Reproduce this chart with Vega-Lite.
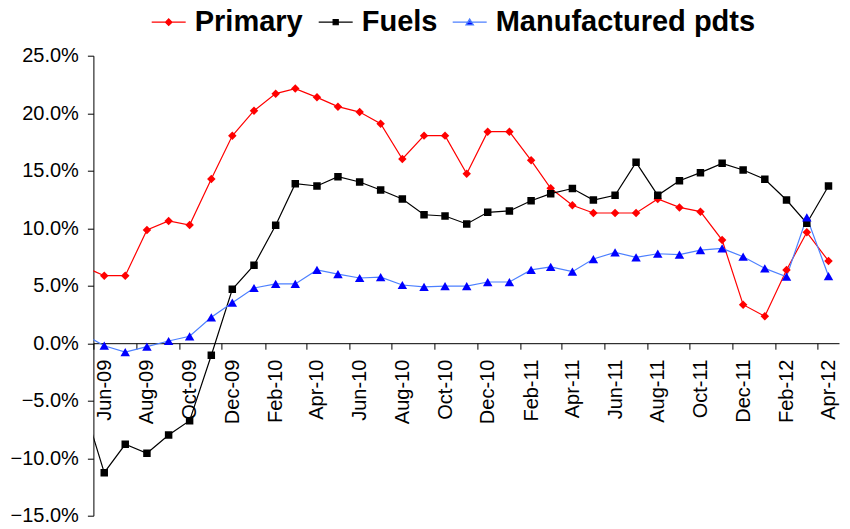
{
  "$schema": "https://vega.github.io/schema/vega-lite/v6.json",
  "width": 745.6,
  "height": 460,
  "autosize": {"type": "none"},
  "padding": {"left": 93.4, "top": 55.7, "right": 11, "bottom": 13.3},
  "background": "white",
  "config": {
    "view": {"stroke": null},
    "font": "Liberation Sans",
    "axis": {"labelFont": "Liberation Sans", "labelColor": "black", "domainColor": "black", "tickColor": "black", "grid": false, "title": null}
  },
  "data": {
    "format": {"parse": {"month": "date:'%Y-%m'"}},
    "values": [
      {"month": "2009-05", "series": "Primary", "value": 0.067},
      {"month": "2009-06", "series": "Primary", "value": 0.0587},
      {"month": "2009-07", "series": "Primary", "value": 0.0587},
      {"month": "2009-08", "series": "Primary", "value": 0.0984},
      {"month": "2009-09", "series": "Primary", "value": 0.1063},
      {"month": "2009-10", "series": "Primary", "value": 0.1028},
      {"month": "2009-11", "series": "Primary", "value": 0.1428},
      {"month": "2009-12", "series": "Primary", "value": 0.1804},
      {"month": "2010-01", "series": "Primary", "value": 0.2022},
      {"month": "2010-02", "series": "Primary", "value": 0.2170},
      {"month": "2010-03", "series": "Primary", "value": 0.2214},
      {"month": "2010-04", "series": "Primary", "value": 0.2138},
      {"month": "2010-05", "series": "Primary", "value": 0.2057},
      {"month": "2010-06", "series": "Primary", "value": 0.2010},
      {"month": "2010-07", "series": "Primary", "value": 0.1909},
      {"month": "2010-08", "series": "Primary", "value": 0.1602},
      {"month": "2010-09", "series": "Primary", "value": 0.1805},
      {"month": "2010-10", "series": "Primary", "value": 0.1805},
      {"month": "2010-11", "series": "Primary", "value": 0.1474},
      {"month": "2010-12", "series": "Primary", "value": 0.1839},
      {"month": "2011-01", "series": "Primary", "value": 0.1839},
      {"month": "2011-02", "series": "Primary", "value": 0.1590},
      {"month": "2011-03", "series": "Primary", "value": 0.1347},
      {"month": "2011-04", "series": "Primary", "value": 0.1200},
      {"month": "2011-05", "series": "Primary", "value": 0.1132},
      {"month": "2011-06", "series": "Primary", "value": 0.1132},
      {"month": "2011-07", "series": "Primary", "value": 0.1132},
      {"month": "2011-08", "series": "Primary", "value": 0.1254},
      {"month": "2011-09", "series": "Primary", "value": 0.1181},
      {"month": "2011-10", "series": "Primary", "value": 0.1144},
      {"month": "2011-11", "series": "Primary", "value": 0.0897},
      {"month": "2011-12", "series": "Primary", "value": 0.0335},
      {"month": "2012-01", "series": "Primary", "value": 0.0234},
      {"month": "2012-02", "series": "Primary", "value": 0.0637},
      {"month": "2012-03", "series": "Primary", "value": 0.0964},
      {"month": "2012-04", "series": "Primary", "value": 0.0715},
      {"month": "2009-05", "series": "Fuels", "value": -0.051},
      {"month": "2009-06", "series": "Fuels", "value": -0.1126},
      {"month": "2009-07", "series": "Fuels", "value": -0.0879},
      {"month": "2009-08", "series": "Fuels", "value": -0.0957},
      {"month": "2009-09", "series": "Fuels", "value": -0.0798},
      {"month": "2009-10", "series": "Fuels", "value": -0.0674},
      {"month": "2009-11", "series": "Fuels", "value": -0.0105},
      {"month": "2009-12", "series": "Fuels", "value": 0.0469},
      {"month": "2010-01", "series": "Fuels", "value": 0.0678},
      {"month": "2010-02", "series": "Fuels", "value": 0.1025},
      {"month": "2010-03", "series": "Fuels", "value": 0.1387},
      {"month": "2010-04", "series": "Fuels", "value": 0.1367},
      {"month": "2010-05", "series": "Fuels", "value": 0.1448},
      {"month": "2010-06", "series": "Fuels", "value": 0.1402},
      {"month": "2010-07", "series": "Fuels", "value": 0.1332},
      {"month": "2010-08", "series": "Fuels", "value": 0.1254},
      {"month": "2010-09", "series": "Fuels", "value": 0.1117},
      {"month": "2010-10", "series": "Fuels", "value": 0.1106},
      {"month": "2010-11", "series": "Fuels", "value": 0.1037},
      {"month": "2010-12", "series": "Fuels", "value": 0.1138},
      {"month": "2011-01", "series": "Fuels", "value": 0.1150},
      {"month": "2011-02", "series": "Fuels", "value": 0.1239},
      {"month": "2011-03", "series": "Fuels", "value": 0.1300},
      {"month": "2011-04", "series": "Fuels", "value": 0.1345},
      {"month": "2011-05", "series": "Fuels", "value": 0.1245},
      {"month": "2011-06", "series": "Fuels", "value": 0.1286},
      {"month": "2011-07", "series": "Fuels", "value": 0.1573},
      {"month": "2011-08", "series": "Fuels", "value": 0.1286},
      {"month": "2011-09", "series": "Fuels", "value": 0.1413},
      {"month": "2011-10", "series": "Fuels", "value": 0.1483},
      {"month": "2011-11", "series": "Fuels", "value": 0.1564},
      {"month": "2011-12", "series": "Fuels", "value": 0.1506},
      {"month": "2012-01", "series": "Fuels", "value": 0.1425},
      {"month": "2012-02", "series": "Fuels", "value": 0.1245},
      {"month": "2012-03", "series": "Fuels", "value": 0.1043},
      {"month": "2012-04", "series": "Fuels", "value": 0.1367},
      {"month": "2009-05", "series": "Manufactured pdts", "value": 0.0083},
      {"month": "2009-06", "series": "Manufactured pdts", "value": -0.0022},
      {"month": "2009-07", "series": "Manufactured pdts", "value": -0.0077},
      {"month": "2009-08", "series": "Manufactured pdts", "value": -0.0030},
      {"month": "2009-09", "series": "Manufactured pdts", "value": 0.0019},
      {"month": "2009-10", "series": "Manufactured pdts", "value": 0.0060},
      {"month": "2009-11", "series": "Manufactured pdts", "value": 0.0225},
      {"month": "2009-12", "series": "Manufactured pdts", "value": 0.0352},
      {"month": "2010-01", "series": "Manufactured pdts", "value": 0.0480},
      {"month": "2010-02", "series": "Manufactured pdts", "value": 0.0515},
      {"month": "2010-03", "series": "Manufactured pdts", "value": 0.0515},
      {"month": "2010-04", "series": "Manufactured pdts", "value": 0.0637},
      {"month": "2010-05", "series": "Manufactured pdts", "value": 0.0600},
      {"month": "2010-06", "series": "Manufactured pdts", "value": 0.0567},
      {"month": "2010-07", "series": "Manufactured pdts", "value": 0.0575},
      {"month": "2010-08", "series": "Manufactured pdts", "value": 0.0506},
      {"month": "2010-09", "series": "Manufactured pdts", "value": 0.0489},
      {"month": "2010-10", "series": "Manufactured pdts", "value": 0.0497},
      {"month": "2010-11", "series": "Manufactured pdts", "value": 0.0497},
      {"month": "2010-12", "series": "Manufactured pdts", "value": 0.0532},
      {"month": "2011-01", "series": "Manufactured pdts", "value": 0.0532},
      {"month": "2011-02", "series": "Manufactured pdts", "value": 0.0637},
      {"month": "2011-03", "series": "Manufactured pdts", "value": 0.0663},
      {"month": "2011-04", "series": "Manufactured pdts", "value": 0.0622},
      {"month": "2011-05", "series": "Manufactured pdts", "value": 0.0732},
      {"month": "2011-06", "series": "Manufactured pdts", "value": 0.0790},
      {"month": "2011-07", "series": "Manufactured pdts", "value": 0.0747},
      {"month": "2011-08", "series": "Manufactured pdts", "value": 0.0778},
      {"month": "2011-09", "series": "Manufactured pdts", "value": 0.0770},
      {"month": "2011-10", "series": "Manufactured pdts", "value": 0.0810},
      {"month": "2011-11", "series": "Manufactured pdts", "value": 0.0825},
      {"month": "2011-12", "series": "Manufactured pdts", "value": 0.0752},
      {"month": "2012-01", "series": "Manufactured pdts", "value": 0.0651},
      {"month": "2012-02", "series": "Manufactured pdts", "value": 0.0578},
      {"month": "2012-03", "series": "Manufactured pdts", "value": 0.1095},
      {"month": "2012-04", "series": "Manufactured pdts", "value": 0.0584}
    ]
  },
  "encoding": {
    "x": {
      "field": "month",
      "type": "temporal",
      "scale": {"domain": [{"year": 2009, "month": 5, "date": 16, "hours": 12}, {"year": 2012, "month": 4, "date": 16}]},
      "axis": {
        "values": [
          {"year": 2009, "month": 6, "date": 1}, {"year": 2009, "month": 8, "date": 1}, {"year": 2009, "month": 10, "date": 1}, {"year": 2009, "month": 12, "date": 1},
          {"year": 2010, "month": 2, "date": 1}, {"year": 2010, "month": 4, "date": 1}, {"year": 2010, "month": 6, "date": 1}, {"year": 2010, "month": 8, "date": 1},
          {"year": 2010, "month": 10, "date": 1}, {"year": 2010, "month": 12, "date": 1}, {"year": 2011, "month": 2, "date": 1}, {"year": 2011, "month": 4, "date": 1},
          {"year": 2011, "month": 6, "date": 1}, {"year": 2011, "month": 8, "date": 1}, {"year": 2011, "month": 10, "date": 1}, {"year": 2011, "month": 12, "date": 1},
          {"year": 2012, "month": 2, "date": 1}, {"year": 2012, "month": 4, "date": 1}
        ],
        "format": "%b-%y",
        "labelAngle": -90,
        "labelFontSize": 20,
        "labelPadding": 10,
        "labelOverlap": false,
        "labelBound": false,
        "labelFlush": false,
        "tickSize": 6,
        "tickOffset": -10.65,
        "labelOffset": 10.65,
        "offset": -172.5,
        "domainWidth": 1,
        "tickWidth": 1
      }
    },
    "y": {
      "field": "value",
      "type": "quantitative",
      "scale": {"domain": [-0.15, 0.25], "nice": false, "zero": false},
      "axis": {
        "values": [-0.15, -0.1, -0.05, 0, 0.05, 0.1, 0.15, 0.2, 0.25],
        "format": ".1%",
        "labelFontSize": 20,
        "labelPadding": 9,
        "tickSize": 6,
        "domainWidth": 1,
        "tickWidth": 1
      }
    }
  },
  "layer": [
    {
      "mark": {"type": "line", "clip": true, "strokeWidth": 1.2},
      "encoding": {
        "stroke": {
          "field": "series",
          "type": "nominal",
          "scale": {"domain": ["Primary", "Fuels", "Manufactured pdts"], "range": ["#FF0000", "#000000", "#4D80FF"]},
          "legend": {
            "orient": "none",
            "direction": "horizontal",
            "legendX": 57.3,
            "legendY": -51.5,
            "title": null,
            "padding": 0,
            "labelFont": "Liberation Sans",
            "labelFontSize": 29,
            "labelFontWeight": "bold",
            "labelColor": "black",
            "labelOffset": 8,
            "labelLimit": 400,
            "columnPadding": 12,
            "symbolSize": 1156,
            "symbolStrokeWidth": 1.2,
            "symbolOpacity": 1,
            "encode": {
              "symbols": {
                "update": {
                  "shape": {"signal": "datum.value === 'Primary' ? 'M-1,0H1M0,-0.19L0.19,0L0,0.19L-0.19,0Z' : datum.value === 'Fuels' ? 'M-1,0H1M-0.15,-0.15H0.15V0.15H-0.15Z' : 'M-1,0H1M0,-0.19L0.22,0.16L-0.22,0.16Z'"},
                  "fill": {"signal": "datum.value === 'Primary' ? '#FF0000' : datum.value === 'Fuels' ? '#000000' : '#0000FF'"},
                  "stroke": {"signal": "datum.value === 'Primary' ? '#FF0000' : datum.value === 'Fuels' ? '#000000' : '#4D80FF'"},
                  "size": {"value": 1156},
                  "strokeWidth": {"value": 1.2},
                  "opacity": {"value": 1}
                }
              }
            }
          }
        }
      }
    },
    {
      "transform": [{"filter": "datum.series === 'Primary'"}],
      "mark": {"type": "point", "shape": "diamond", "filled": true, "clip": true, "opacity": 1, "color": "#FF0000", "size": 72, "strokeWidth": 0}
    },
    {
      "transform": [{"filter": "datum.series === 'Fuels'"}],
      "mark": {"type": "point", "shape": "square", "filled": true, "clip": true, "opacity": 1, "color": "#000000", "size": 56, "strokeWidth": 0}
    },
    {
      "transform": [{"filter": "datum.series === 'Manufactured pdts'"}],
      "mark": {"type": "point", "shape": "triangle-up", "filled": true, "clip": true, "opacity": 1, "color": "#0000FF", "size": 90, "strokeWidth": 0}
    }
  ]
}
